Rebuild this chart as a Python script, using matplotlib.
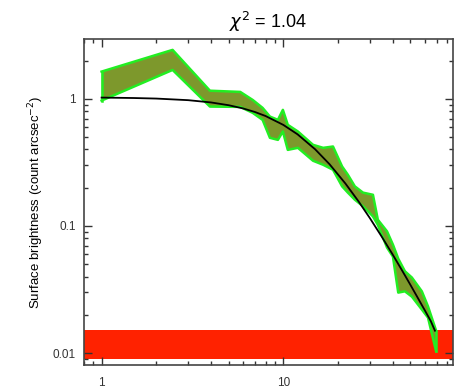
import matplotlib
matplotlib.use("Agg")
import matplotlib.pyplot as plt
from matplotlib.ticker import LogLocator, NullFormatter, FixedLocator, FixedFormatter

plt.rcParams['font.family'] = ['Liberation Sans', 'DejaVu Sans']

# Data band (upper/lower envelope of profile)
band_r = [1.0, 2.46, 3.95, 5.8, 6.8, 7.7, 8.45, 9.35, 9.96, 10.6, 12.05, 14.6, 16.6, 18.8,
          21.1, 22.7, 24.8, 27.5, 31.2, 33.2, 37.3, 40.2, 43.0, 46.8, 51.1, 58.0, 62.7, 69.5]
band_hi = [1.64, 2.43, 1.16, 1.135, 0.98, 0.85, 0.726, 0.684, 0.82, 0.625, 0.554, 0.435, 0.412, 0.422,
           0.294, 0.253, 0.205, 0.183, 0.176, 0.112, 0.0907, 0.0713, 0.0553, 0.044, 0.0393, 0.0306, 0.0233, 0.0150]
band_lo = [0.97, 1.69, 0.87, 0.865, 0.776, 0.684, 0.494, 0.476, 0.554, 0.397, 0.412, 0.326, 0.303, 0.277,
           0.205, 0.183, 0.161, 0.143, 0.119, 0.102, 0.0676, 0.0574, 0.0299, 0.0306, 0.0278, 0.022, 0.019, 0.0103]

# Model curve
model_r = [1, 1.5, 2, 3, 4, 5, 6, 7, 8, 10, 12, 15, 18, 22, 26, 30, 35, 40, 45, 50, 55, 60, 65, 68.5]
model_v = [1.024, 1.016, 1.006, 0.977, 0.938, 0.892, 0.842, 0.788, 0.733, 0.625, 0.526, 0.401, 0.306,
           0.216, 0.156, 0.1154, 0.0817, 0.0598, 0.0450, 0.0347, 0.0273, 0.0219, 0.0178, 0.0150]

# Background band
bkg_lo = 0.0090
bkg_hi = 0.0152

x_ticks = [1, 10]
x_ticklabels = ['1', '10']
y_ticks = [0.01, 0.1, 1]
y_ticklabels = ['0.01', '0.1', '1']

fig = plt.figure(figsize=(4.6, 3.9), dpi=100)
ax = fig.add_axes([0.1826, 0.0649, 0.8014, 0.8351])
ax.set_xscale('log')
ax.set_yscale('log')
ax.set_xlim(0.80, 85.7)
ax.set_ylim(0.0081, 2.96)

ax.axhspan(bkg_lo, bkg_hi, color='#ff2200', zorder=1, lw=0)
ax.fill_between(band_r, band_lo, band_hi, facecolor='#7d982c', edgecolor='none', zorder=2)
ax.plot(band_r, band_hi, color='#22ee22', lw=1.8, zorder=3)
ax.plot(band_r, band_lo, color='#22ee22', lw=1.8, zorder=3)
ax.plot([band_r[0]] * 2, [band_lo[0], band_hi[0]], color='#22ee22', lw=1.8, zorder=3)
ax.plot([band_r[-1]] * 2, [band_lo[-1], band_hi[-1]], color='#22ee22', lw=1.8, zorder=3)
ax.plot(model_r, model_v, color='black', lw=1.3, zorder=4)

ax.xaxis.set_major_locator(FixedLocator(x_ticks))
ax.xaxis.set_major_formatter(FixedFormatter(x_ticklabels))
ax.xaxis.set_minor_locator(LogLocator(base=10, subs=range(2, 10)))
ax.xaxis.set_minor_formatter(NullFormatter())
ax.yaxis.set_major_locator(FixedLocator(y_ticks))
ax.yaxis.set_major_formatter(FixedFormatter(y_ticklabels))
ax.yaxis.set_minor_locator(LogLocator(base=10, subs=range(2, 10)))
ax.yaxis.set_minor_formatter(NullFormatter())

ax.tick_params(which='both', direction='in', top=True, right=True, color='#333333', width=1.0)
ax.tick_params(which='major', length=6, labelsize=8.5, labelcolor='#333333')
ax.tick_params(which='minor', length=3)
ax.tick_params(axis='x', which='major', pad=9)
ax.tick_params(axis='y', which='major', pad=6)
for s in ax.spines.values():
    s.set_color('#444444')
    s.set_linewidth(1.2)

ax.set_ylabel('Surface brightness (count arcsec$^{-2}$)', fontsize=9.5, labelpad=5)
ax.set_title(r'$\chi^2$ = 1.04', fontsize=13, pad=8)

fig.savefig('out.png', dpi=100)
